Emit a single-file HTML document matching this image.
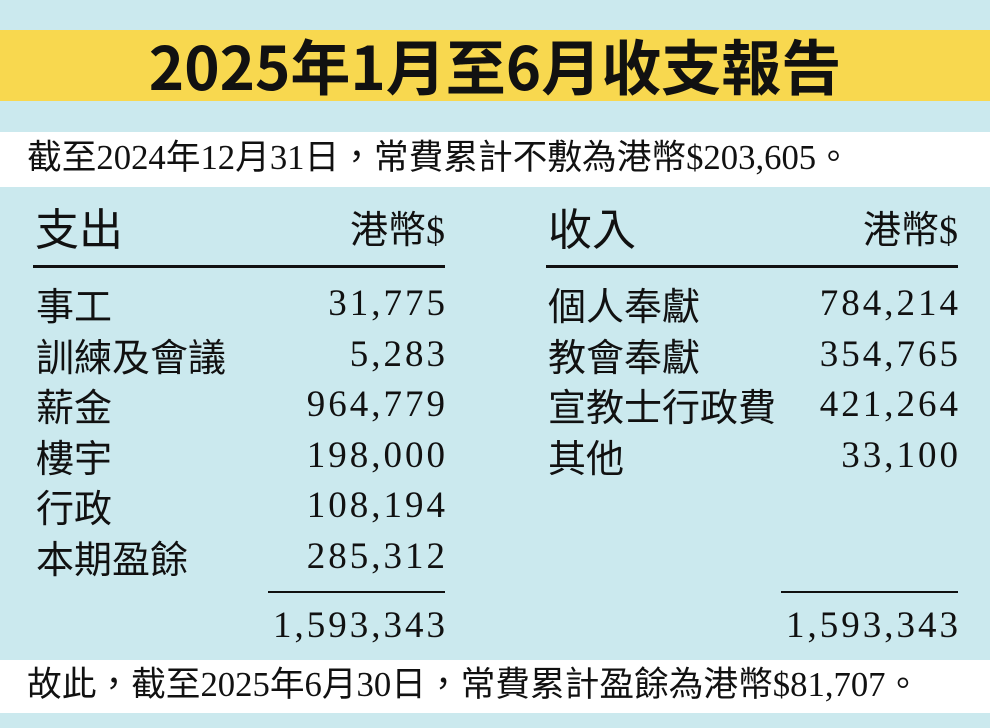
<!DOCTYPE html>
<html><head><meta charset="utf-8"><style>
body{margin:0;width:990px;height:728px;background:#cbe9ee;position:relative;overflow:hidden;font-family:"Liberation Serif","Noto Sans CJK TC",serif;color:#111}
.band{position:absolute;left:0;width:990px}
.t{position:absolute;white-space:nowrap;line-height:1}
.s{font-family:"Noto Sans CJK TC",sans-serif}
.n{font-family:"Liberation Serif",serif;font-size:37px;letter-spacing:3px;text-align:right}
.line{position:absolute;height:3px;background:#111}
</style></head><body>
<div class="band" style="top:30px;height:71px;background:#f8d84f"></div>
<div class="t s" style="left:0;width:990px;text-align:center;top:33px;font-size:60px;font-weight:bold;line-height:64px">2025年1月至6月收支報告</div>
<div class="band" style="top:132px;height:55px;background:#fff"></div>
<div class="t" style="left:27px;top:141px;font-size:34.7px">截至2024年12月31日，常費累計不敷為港幣$203,605。</div>
<div class="band" style="top:660px;height:53px;background:#fff"></div>
<div class="t" style="left:27px;top:668px;font-size:34.7px">故此，截至2025年6月30日，常費累計盈餘為港幣$81,707。</div>

<div class="t s" style="left:35px;top:204px;font-size:44px;font-weight:400">支出</div>
<div class="t" style="left:300px;width:145px;text-align:right;top:212px;font-size:38px">港幣$</div>
<div class="line" style="left:33px;width:412px;top:265px"></div>
<div class="t s" style="left:548px;top:204px;font-size:44px;font-weight:400">收入</div>
<div class="t" style="left:810px;width:148px;text-align:right;top:212px;font-size:38px">港幣$</div>
<div class="line" style="left:546px;width:412px;top:265px"></div>

<div class="t s" style="left:36px;top:279px;font-size:38px;line-height:50.6px">事工<br>訓練及會議<br>薪金<br>樓宇<br>行政<br>本期盈餘</div>
<div class="t n" style="left:240px;width:208px;top:279px;line-height:50.6px">31,775<br>5,283<br>964,779<br>198,000<br>108,194<br>285,312</div>
<div class="t s" style="left:548px;top:279px;font-size:38px;line-height:50.6px">個人奉獻<br>教會奉獻<br>宣教士行政費<br>其他</div>
<div class="t n" style="left:750px;width:211px;top:279px;line-height:50.6px">784,214<br>354,765<br>421,264<br>33,100</div>

<div class="line" style="left:268px;width:177px;top:591px;height:2px"></div>
<div class="line" style="left:781px;width:177px;top:591px;height:2px"></div>
<div class="t n" style="left:240px;width:208px;top:607px">1,593,343</div>
<div class="t n" style="left:750px;width:211px;top:607px">1,593,343</div>
</body></html>
